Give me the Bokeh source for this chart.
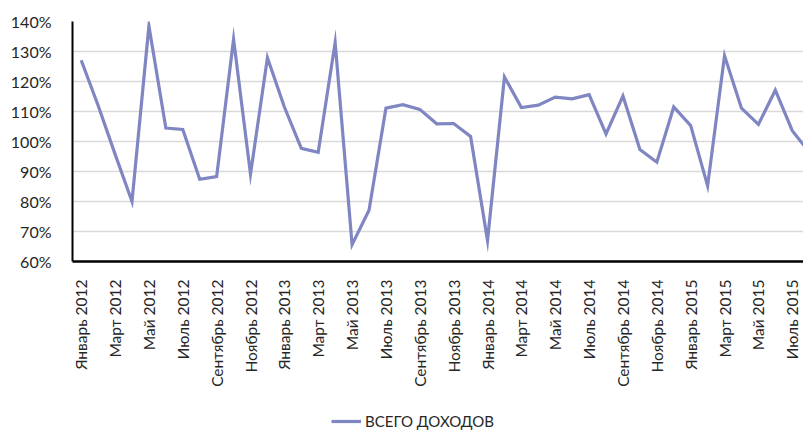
import math
from bokeh.plotting import figure
from bokeh.layouts import column
from bokeh.models import Range1d, FixedTicker, NumeralTickFormatter, Legend, LegendItem
from bokeh.embed import file_html
from bokeh.resources import INLINE

months = ["Январь", "Февраль", "Март", "Апрель", "Май", "Июнь",
          "Июль", "Август", "Сентябрь", "Октябрь", "Ноябрь", "Декабрь"]
years = [2012, 2013, 2014, 2015]
categories = [f"{m} {y}" for y in years for m in months][:44]

# ВСЕГО ДОХОДОВ, % (Январь 2012 .. Август 2015)
values = [127.1, 112.0, 95.8, 80.0, 138.5, 104.5, 104.0, 87.4, 88.3, 134.1, 89.1, 127.9,
          111.5, 97.7, 96.4, 133.0, 65.6, 77.1, 111.1, 112.3, 110.7, 105.9, 106.0, 101.7,
          67.0, 121.5, 111.3, 112.1, 114.8, 114.2, 115.6, 102.5, 115.2, 97.3, 93.1, 111.5,
          105.3, 85.2, 128.6, 111.1, 105.7, 117.1, 103.6, 96.5]
y_ticks = [0.6, 0.7, 0.8, 0.9, 1.0, 1.1, 1.2, 1.3, 1.4]
series_name = "ВСЕГО ДОХОДОВ"

xs = list(range(len(categories)))
ys = [v / 100 for v in values]

FONT = "Lato"
LINE_COLOR = "#7F86C2"
FRAME_W = 731
step = 16.93
x0 = -8.7 / step
p = figure(width=803, height=396, output_backend="svg", toolbar_location=None,
           x_range=Range1d(x0, x0 + FRAME_W / step), y_range=Range1d(0.6, 1.4),
           min_border_left=72, min_border_right=0, min_border_top=21, min_border_bottom=135)
p.outline_line_color = None
p.background_fill_color = "white"

r = p.line(xs, ys, line_color=LINE_COLOR, line_width=3.2, line_join="miter")

p.xgrid.visible = False
p.ygrid.grid_line_color = "#D9D9D9"
p.ygrid.grid_line_width = 1.3
p.ygrid.ticker = FixedTicker(ticks=y_ticks)

p.yaxis.ticker = FixedTicker(ticks=y_ticks)
p.yaxis.formatter = NumeralTickFormatter(format="0%")
p.yaxis.major_tick_line_color = None
p.yaxis.minor_tick_line_color = None
p.yaxis.axis_line_color = "black"
p.yaxis.axis_line_width = 2
p.yaxis.major_label_standoff = 15
p.yaxis.major_label_text_font = FONT
p.yaxis.major_label_text_font_size = "16px"
p.yaxis.major_label_text_color = "#262626"

tick_idx = list(range(0, 43, 2))
p.xaxis.ticker = FixedTicker(ticks=tick_idx)
p.xaxis.major_label_overrides = {i: categories[i] for i in tick_idx}
p.xaxis.major_label_orientation = math.pi / 2
p.xaxis.major_tick_line_color = None
p.xaxis.minor_tick_line_color = None
p.xaxis.axis_line_color = "black"
p.xaxis.axis_line_width = 2.5
p.xaxis.major_label_standoff = 12
p.xaxis.major_label_text_font = FONT
p.xaxis.major_label_text_font_size = "15.5px"
p.xaxis.major_label_text_color = "#262626"

# legend strip below the chart (same series, drawn outside this strip's visible range)
lg = figure(width=803, height=36, output_backend="svg", toolbar_location=None,
            x_range=Range1d(0, 1), y_range=Range1d(-2, -1),
            x_axis_location=None, y_axis_location=None,
            min_border_left=0, min_border_right=0, min_border_top=0, min_border_bottom=0)
lg.outline_line_color = None
lg.grid.visible = False
lr = lg.line(xs, ys, line_color=LINE_COLOR, line_width=3.2)
legend = Legend(items=[LegendItem(label=series_name, renderers=[lr])],
                orientation="horizontal", location=(259, 2),
                border_line_color=None, background_fill_alpha=0,
                glyph_width=30, glyph_height=14, label_standoff=4, padding=0, margin=0,
                label_text_font=FONT, label_text_font_size="15px",
                label_text_color="#262626")
lg.add_layout(legend, "center")

layout = column(p, lg, spacing=0)
open("out.html", "w").write(file_html(layout, INLINE))
